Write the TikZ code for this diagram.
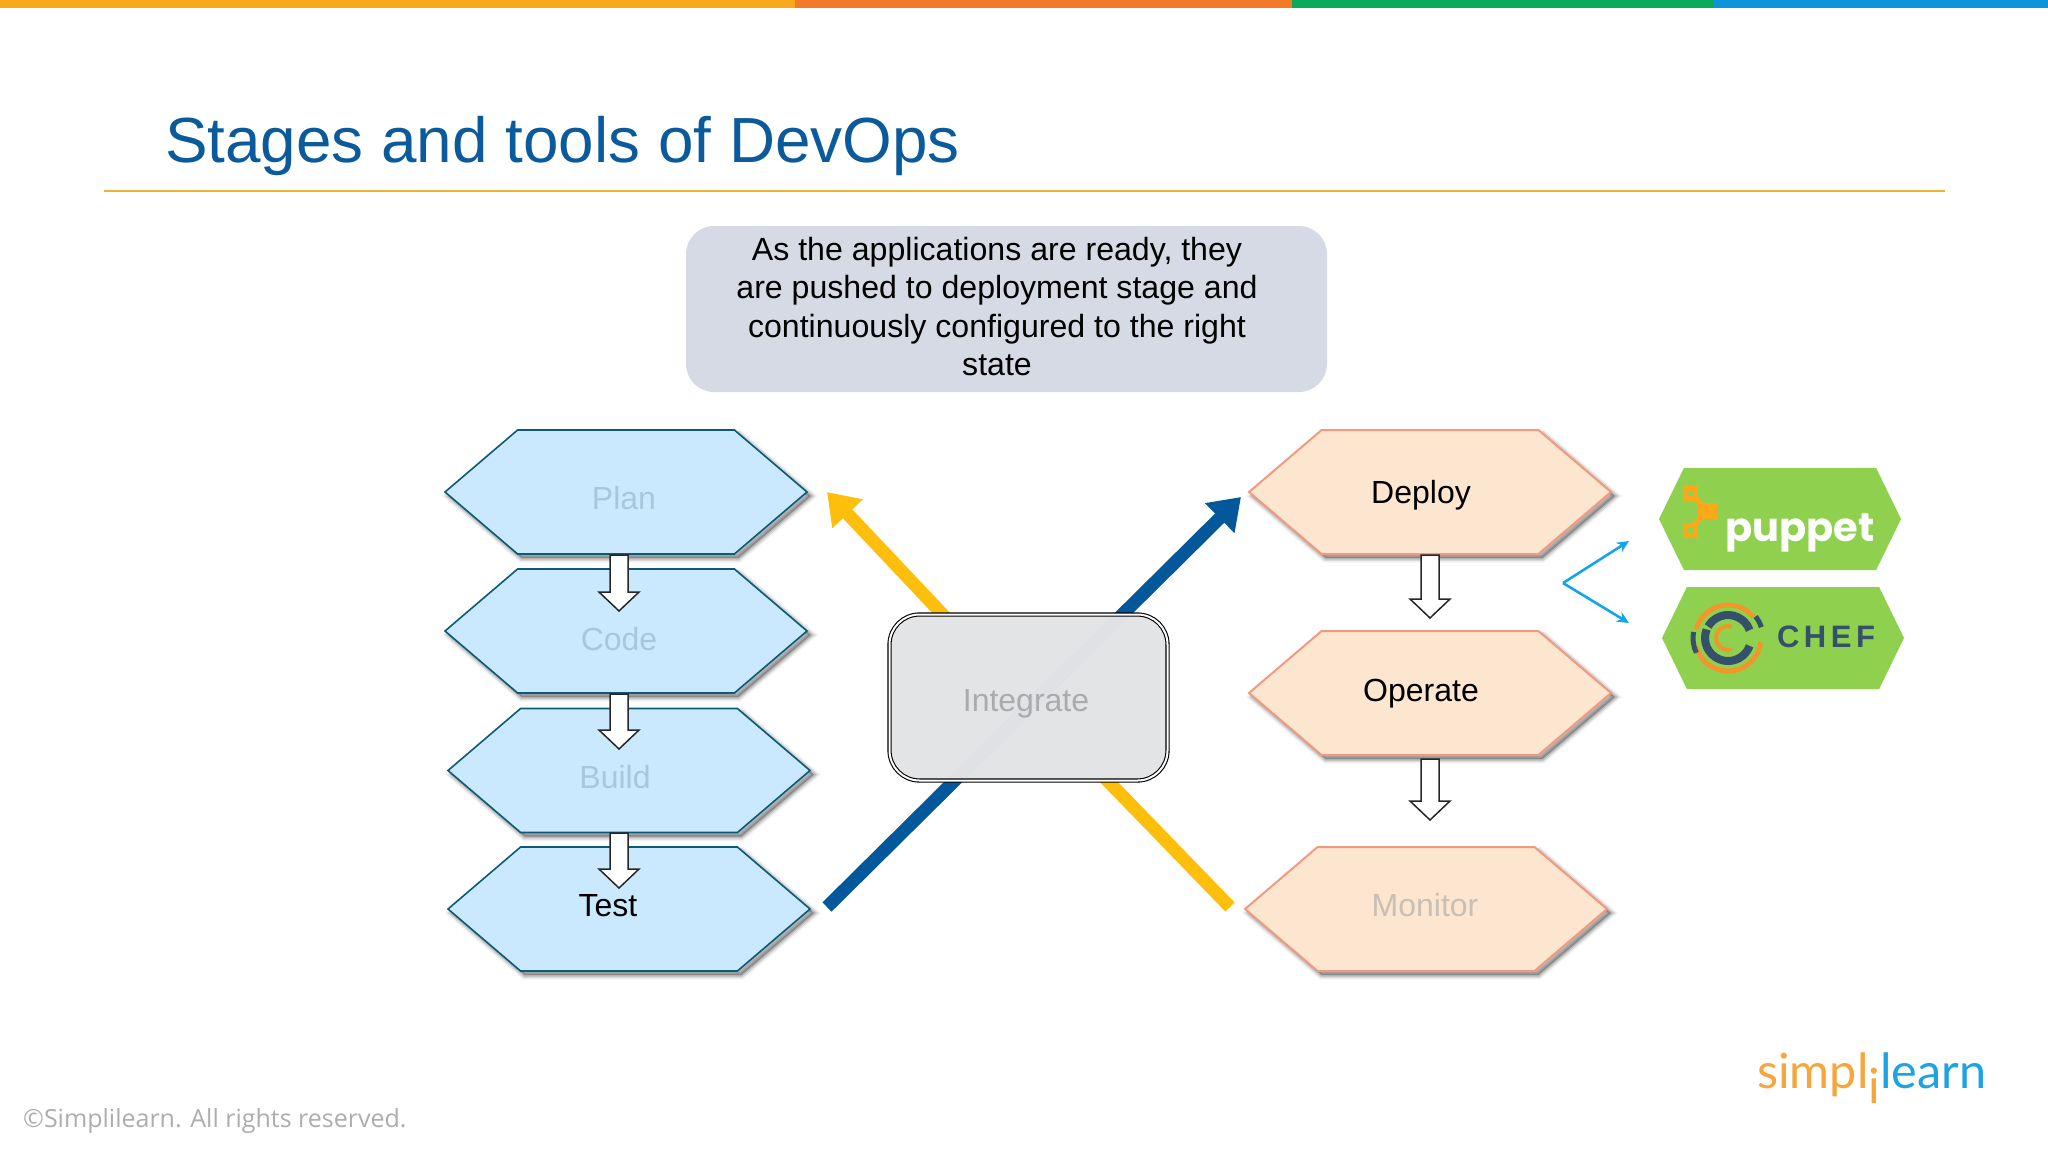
\documentclass[tikz,border=0pt]{standalone}
\usepackage{fontspec}
\setmainfont{Liberation Sans}
\newfontfamily\logofont{Poppins}
\newfontfamily\brandfont{Lato}
\newfontfamily\copyfont{Open Sans}
\usetikzlibrary{shapes.symbols,arrows.meta,calc}
\definecolor{barY}{HTML}{F9A91C}
\definecolor{barO}{HTML}{F47A28}
\definecolor{barG}{HTML}{0BA95B}
\definecolor{barB}{HTML}{0C95D9}
\definecolor{titleC}{HTML}{0A5A9C}
\definecolor{ruleC}{HTML}{F0B030}
\definecolor{calloutC}{HTML}{D6DAE4}
\definecolor{hexB}{HTML}{CAE9FE}
\definecolor{hexBd}{HTML}{0B5A78}
\definecolor{hexO}{HTML}{FDE6CF}
\definecolor{hexOd}{HTML}{F29A80}
\definecolor{fadeB}{HTML}{A9C6DA}
\definecolor{fadeO}{HTML}{C9BFB4}
\definecolor{fadeG}{HTML}{ABABAE}
\definecolor{arrY}{HTML}{FDBF0B}
\definecolor{arrB}{HTML}{03589C}
\definecolor{boxG}{HTML}{E3E4E6}
\definecolor{greenC}{HTML}{90D04F}
\definecolor{chefO}{HTML}{F0962A}
\definecolor{chefD}{HTML}{35506A}
\definecolor{pupO}{HTML}{FBA919}
\definecolor{sky}{HTML}{12A5EC}
\definecolor{logoO}{HTML}{F7A63C}
\definecolor{logoB}{HTML}{1BA3E2}
\newcommand{\fs}[1]{\fontsize{#1}{#1}\selectfont}
\newcommand{\chefarc}[5]{\draw[#5,line width=#4pt] ([shift={(#2:#1pt)}]chefc) arc[start angle=#2,end angle=#3,radius=#1pt];}
\tikzset{
 x=1pt,y=-1pt,
 softshadow/.style={
  preaction={draw=black,fill=black,opacity=.05,line width=9pt,transform canvas={shift={(4pt,-4pt)}}},
  preaction={draw=black,fill=black,opacity=.10,line width=6pt,transform canvas={shift={(4pt,-4pt)}}},
  preaction={draw=black,fill=black,opacity=.14,line width=3pt,transform canvas={shift={(4pt,-4pt)}}}},
 hexbase/.style={shape=signal,signal from=nowhere,signal to=west and east,signal pointer angle=81,
   minimum width=362pt,minimum height=124pt,inner sep=0pt,outer sep=0pt,line width=1.6pt},
 hexblue/.style={hexbase,fill=hexB,draw=hexBd,softshadow},
 hexorange/.style={hexbase,fill=hexO,draw=hexOd,line width=2pt,softshadow},
 hexgreen/.style={shape=signal,signal from=nowhere,signal to=west and east,signal pointer angle=128,
   minimum width=242pt,minimum height=102pt,inner sep=0pt,fill=greenC,draw=none},
 lab/.style={font=\fs{32},inner sep=0pt},
 bigarrow/.style={line width=13pt,-{Triangle[length=30pt,width=40pt]}},
 bigline/.style={line width=13pt},
 blockarrow/.style={draw=black!85,fill=white,line width=1.5pt,line join=miter,
   to path={let \p1=(\tikztostart),\p2=(\tikztotarget) in
     (\x1-9pt,\y1) -- (\x1+9pt,\y1) -- (\x1+9pt,\y2+19pt) -- (\x1+20pt,\y2+19pt) -- (\x1,\y2)
     -- (\x1-20pt,\y2+19pt) -- (\x1-9pt,\y2+19pt) -- cycle}},
 skyarrow/.style={draw=sky,line width=2.6pt,-{Stealth[length=12pt,width=11pt]}}
}
\begin{document}
\begin{tikzpicture}
\useasboundingbox (0,0) rectangle (2048,1152);
% top bar
\fill[barY] (0,0) rectangle (795,8);
\fill[barO] (795,0) rectangle (1292,8);
\fill[barG] (1292,0) rectangle (1713,8);
\fill[barB] (1713,0) rectangle (2048,8);
% title
\node[anchor=base west,inner sep=0pt,text=titleC,font=\fs{63.8}] (title) at (165,162) {Stages and tools of DevOps};
\draw[ruleC,line width=2pt] (104,190.5) -- (1945,190.5);
% callout
\node[fill=calloutC,rounded corners=28pt,minimum width=641pt,minimum height=166pt,inner sep=0pt] (callout) at (1006.5,309) {};
\node[inner sep=0pt,align=center,font=\fontsize{32.1}{38.4}\selectfont] (calloutl) at (997,306.5)
  {As the applications are ready, they\\are pushed to deployment stage and\\continuously configured to the right\\state};
% hexagons
\node[hexblue] (plan) at (626,492) {};
\node[hexblue] (code) at (626,631) {};
\node[hexblue] (build) at (629,770.5) {};
\node[hexblue] (test) at (629,909) {};
\node[hexorange] (deploy) at (1430,492) {};
\node[hexorange] (operate) at (1430,693) {};
\node[hexorange] (monitor) at (1426,909) {};
\node[lab,text=fadeB] (planl) at (624,498) {Plan};
\node[lab,text=fadeB] (codel) at (619,639) {Code};
\node[lab,text=fadeB] (buildl) at (615,777) {Build};
\node[lab] (testl) at (608,906) {Test};
\node[lab] (deployl) at (1421,495) {Deploy};
\node[lab] (operatel) at (1421,694) {Operate};
\node[lab,text=fadeO] (monitorl) at (1425,905) {Monitor};
% block arrows
\coordinate (b1a) at (619,555); \coordinate (b1b) at (619,611);
\coordinate (b2a) at (619,694); \coordinate (b2b) at (619,749);
\coordinate (b3a) at (619,833); \coordinate (b3b) at (619,888);
\coordinate (b4a) at (1430,555); \coordinate (b4b) at (1430,618);
\coordinate (b5a) at (1430,759); \coordinate (b5b) at (1430,820);
\path[blockarrow] (b1a) to (b1b);
\path[blockarrow] (b2a) to (b2b);
\path[blockarrow] (b3a) to (b3b);
\path[blockarrow] (b4a) to (b4b);
\path[blockarrow] (b5a) to (b5b);
% big arrows
\coordinate (yA) at (1230,907); \coordinate (yT) at (827,492);
\coordinate (yB) at (1105,778); \coordinate (yC) at (945,617);
\coordinate (bA) at (827,907); \coordinate (bT) at (1241,497);
\draw[bigline,arrY] (yA) -- (yB);
\draw[bigarrow,arrY] (yC) -- (yT);
\draw[bigarrow,arrB] (bA) -- (bT);
\node[draw=black,double=white,double distance=2pt,line width=1.1pt,rounded corners=30pt,
  fill=boxG,fill opacity=.985,text opacity=1,minimum width=278pt,minimum height=166pt,inner sep=0pt] (integrate) at (1028.5,697.5) {};
\node[lab,text=fadeG] (integratel) at (1026,704) {Integrate};
% green tags
\node[hexgreen] (puppet) at (1780,519) {};
\node[hexgreen] (chef) at (1783,638) {};
\node[inner sep=0pt,text=white,font=\logofont\bfseries\fs{40}] (puppetl) at (1800,533) {puppet};
\node[inner sep=0pt,text=chefD,font=\bfseries\fs{31},anchor=center] (chefl) at (1826,637) {C\hspace{4.5pt}H\hspace{4.5pt}E\hspace{4.5pt}F};
% puppet mark
\draw[pupO,line width=5pt] (1692,495) -- (1708,511) -- (1692,527);
\draw[pupO,line width=5pt,fill=greenC] (1685,488) rectangle (1695,498);
\draw[pupO,line width=5pt,fill=greenC] (1685,525) rectangle (1695,535);
\fill[pupO] (1698,503) rectangle (1717,519);
% chef mark
\coordinate (chefc) at (1728,638);
\chefarc{33}{40}{165}{5}{chefO}
\chefarc{33}{-8}{-165}{5}{chefO}
\chefarc{35}{18}{38}{5}{chefD}
\chefarc{35}{170}{205}{5}{chefD}
\chefarc{23}{20}{150}{8}{chefD}
\chefarc{23}{158}{340}{8}{chefD}
\chefarc{12}{70}{290}{4}{chefO}
% sky connector
\coordinate (skyc) at (1563,583); \coordinate (sky1) at (1629,541); \coordinate (sky2) at (1629,623);
\draw[skyarrow] (skyc) -- (sky1);
\draw[skyarrow] (skyc) -- (sky2);
% footer
\node[anchor=base west,inner sep=0pt,text=black!32,font=\copyfont\fs{25}] (copy) at (23,1127) {©Simplilearn. All rights reserved.};
\node[anchor=base west,inner sep=0pt,font=\brandfont\fs{48.6}] (logo) at (1757,1088)
  {\textcolor{logoO}{simpl\raisebox{-15pt}{i}}\textcolor{logoB}{learn}};
\end{tikzpicture}
\end{document}
